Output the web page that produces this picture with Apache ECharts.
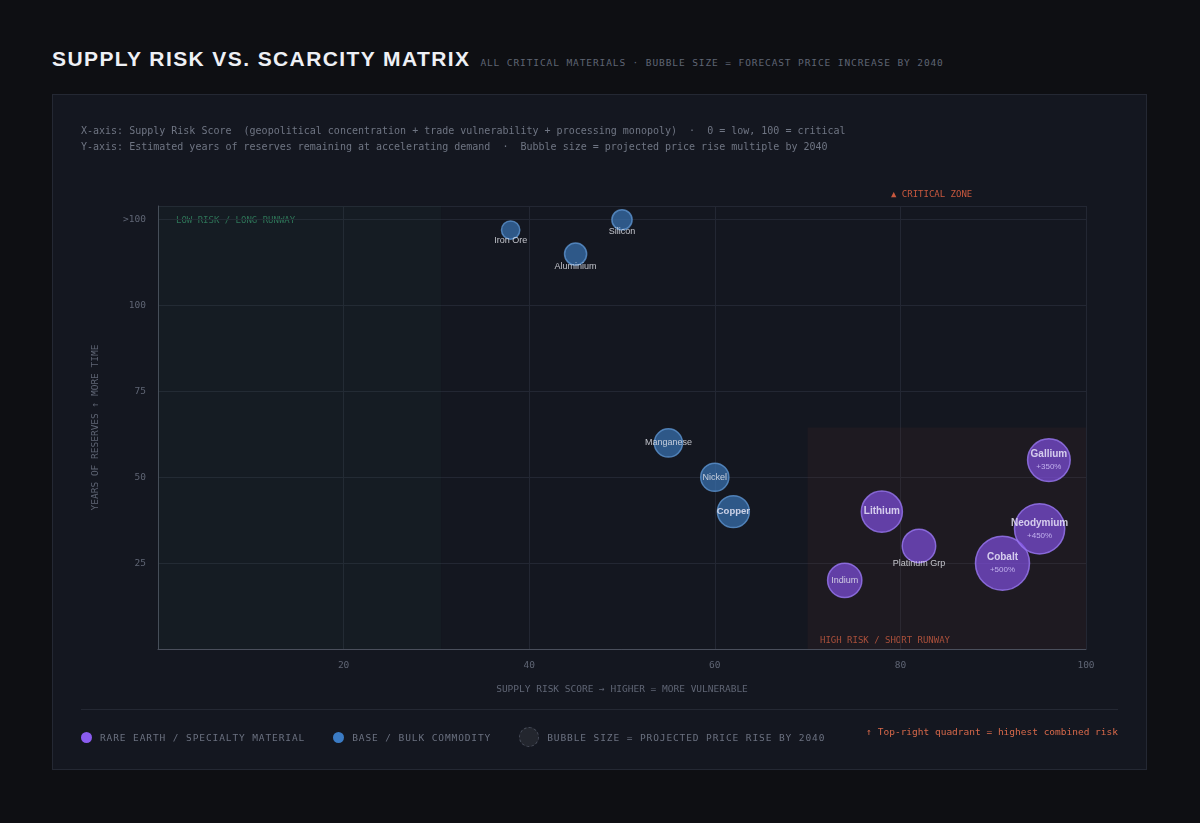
<!DOCTYPE html>
<html>
<head>
<meta charset="utf-8">
<script src="https://cdn.jsdelivr.net/npm/echarts@6/dist/echarts.min.js"></script>
<style>
  body { margin: 0; background: #0e0f13; width: 1200px; height: 823px; position: relative; overflow: hidden; }
  .title { position: absolute; left: 52px; top: 47px; font: bold 21px "Liberation Sans", Arial, sans-serif; letter-spacing: 1.4px; color: #eef0f5; white-space: nowrap; }
  .title span { font: 9.5px "DejaVu Sans Mono", monospace; letter-spacing: 0.9px; color: #5f6574; font-weight: normal; margin-left: 10px; }
  .card { position: absolute; left: 52px; top: 94px; width: 1093px; height: 674px; background: #141720; border: 1px solid #242833; }
  .notes { position: absolute; left: 28px; top: 28px; font: 10px "DejaVu Sans Mono", monospace; line-height: 16px; color: #6f7583; white-space: pre; }
  #chart { position: absolute; left: 0; top: 0; width: 1093px; height: 674px; }
  .divider { position: absolute; left: 28px; right: 28px; top: 614px; border-top: 1px solid #242833; }
  .legend { position: absolute; left: 28px; top: 632px; font: 9.5px "DejaVu Sans Mono", monospace; letter-spacing: 0.9px; color: #6b7180; display: flex; align-items: center; }
  .legend i { display: inline-block; border-radius: 50%; margin-right: 8px; }
  .legend b { font-weight: normal; margin-right: 28px; }
  .note { position: absolute; right: 28px; top: 631px; font: 9.5px "DejaVu Sans Mono", monospace; color: #d8694a; }
</style>
</head>
<body>
<div class="title">SUPPLY RISK VS. SCARCITY MATRIX<span>ALL CRITICAL MATERIALS · BUBBLE SIZE = FORECAST PRICE INCREASE BY 2040</span></div>
<div class="card">
  <div id="chart"></div>
  <div class="notes">X-axis: Supply Risk Score  (geopolitical concentration + trade vulnerability + processing monopoly)  ·  0 = low, 100 = critical
Y-axis: Estimated years of reserves remaining at accelerating demand  ·  Bubble size = projected price rise multiple by 2040</div>
  <div class="divider"></div>
  <div class="legend">
    <i style="width:11px;height:11px;background:#8b5cf0"></i><b>RARE EARTH / SPECIALTY MATERIAL</b>
    <i style="width:11px;height:11px;background:#3b7bc4"></i><b>BASE / BULK COMMODITY</b>
    <i style="width:18px;height:18px;background:#23262e;border:1px dashed #4a4f5c"></i><b>BUBBLE SIZE = PROJECTED PRICE RISE BY 2040</b>
  </div>
  <div class="note">↑ Top-right quadrant = highest combined risk</div>
</div>
<script>
// 材料数据
var names    = ['Iron Ore', 'Silicon', 'Aluminium', 'Manganese', 'Nickel', 'Copper', 'Lithium', 'Platinum Grp', 'Indium', 'Cobalt', 'Neodymium', 'Gallium'];
var riskScore = [38, 50, 45, 55, 60, 62, 78, 82, 74, 91, 95, 96];
var reserveYears = [122, 125, 115, 60, 50, 40, 40, 30, 20, 25, 35, 55];
var priceRise = [30, 55, 80, 160, 160, 210, 330, 230, 240, 500, 450, 350];
var groups = ['base', 'base', 'base', 'base', 'base', 'base', 'rare', 'rare', 'rare', 'rare', 'rare', 'rare'];
var showPct = ['Cobalt', 'Neodymium', 'Gallium'];
var belowLabel = ['Iron Ore', 'Silicon', 'Aluminium', 'Platinum Grp'];
var boldLabel = ['Copper', 'Lithium', 'Cobalt', 'Neodymium', 'Gallium'];
var xTicks = [20, 40, 60, 80, 100];

function sizeOf(v) { return 16 + v * 0.076; }

function buildSeries(g) {
    var data = [];
    for (var i = 0; i < names.length; i++) {
        if (groups[i] != g) continue;
        var name = names[i];
        var below = belowLabel.indexOf(name) >= 0;
        var txt = showPct.indexOf(name) >= 0 ? '{b|' + name + '}\n{p|+' + priceRise[i] + '%}' :
            (boldLabel.indexOf(name) >= 0 ? '{b|' + name + '}' : '{n|' + name + '}');
        data.push({
            name: name,
            value: [riskScore[i], reserveYears[i], priceRise[i]],
            label: {
                show: true,
                position: below ? 'bottom' : 'inside',
                distance: below ? -4 : 5,
                formatter: txt
            }
        });
    }
    var rare = g == 'rare';
    return {
        type: 'scatter',
        data: data,
        symbolSize: function (v) { return sizeOf(v[2]); },
        itemStyle: {
            color: rare ? 'rgba(130,80,230,0.85)' : 'rgba(58,118,185,0.85)',
            borderColor: rare ? '#9a78f2' : '#5c93cf',
            borderWidth: 1.5
        },
        label: {
            rich: {
                b: { color: '#f2f0ff', fontSize: g == 'rare' ? 10 : 9.5, fontWeight: 'bold', fontFamily: 'Liberation Sans', lineHeight: 13 },
                n: { color: '#e8eaf0', fontSize: 9, fontFamily: 'Liberation Sans' },
                p: { color: '#d8ccff', fontSize: 8, fontFamily: 'Liberation Sans', lineHeight: 12 }
            }
        },
        z: 3
    };
}

var chart = echarts.init(document.getElementById('chart'));
var mono = 'DejaVu Sans Mono';
var series = [buildSeries('base'), buildSeries('rare')];
series.push({
    type: 'scatter', data: [], silent: true,
    markArea: {
        silent: true,
        data: [
            [{ coord: [0, 0], itemStyle: { color: 'rgba(40,80,70,0.10)' } }, { coord: [30.5, 129] }],
            [{ coord: [70, 0], itemStyle: { color: 'rgba(90,50,40,0.14)' } }, { coord: [100, 64.5] }]
        ]
    }
});

chart.setOption({
    backgroundColor: 'transparent',
    animation: false,
    grid: { left: 105, right: 60, top: 111, bottom: 120 },
    xAxis: {
        type: 'value', min: 0, max: 100, interval: 20,
        name: 'SUPPLY RISK SCORE → HIGHER = MORE VULNERABLE',
        nameLocation: 'middle', nameGap: 36,
        nameTextStyle: { color: '#5f6574', fontFamily: mono, fontSize: 9.5 },
        axisLine: { lineStyle: { color: '#4a4f5c' } },
        axisTick: { show: false },
        axisLabel: {
            color: '#5f6574', fontFamily: mono, fontSize: 9.5, margin: 12,
            formatter: function (v) { return xTicks.indexOf(v) >= 0 ? v : ''; }
        },
        splitLine: { lineStyle: { color: '#232733' } }
    },
    yAxis: {
        type: 'value', min: 0, max: 129, interval: 25,
        name: 'YEARS OF RESERVES ↑ MORE TIME',
        nameLocation: 'middle', nameGap: 57,
        nameTextStyle: { color: '#5f6574', fontFamily: mono, fontSize: 9.5 },
        axisLine: { show: true, lineStyle: { color: '#4a4f5c' } },
        axisTick: { show: false },
        axisLabel: {
            color: '#5f6574', fontFamily: mono, fontSize: 9.5, margin: 12,
            formatter: function (v) { return v == 0 || v % 25 ? '' : (v > 100 ? '>100' : v); }
        },
        splitLine: { lineStyle: { color: '#232733' } }
    },
    graphic: [
        { type: 'text', left: 123, top: 121, style: { text: 'LOW RISK / LONG RUNWAY', fill: '#2f7a5a', font: '9px ' + mono } },
        { type: 'text', left: 767, top: 541, style: { text: 'HIGH RISK / SHORT RUNWAY', fill: '#b8553e', font: '9px ' + mono } },
        { type: 'text', left: 838, top: 95, style: { text: '▲ CRITICAL ZONE', fill: '#c8583e', font: '9px ' + mono } }
    ],
    series: series
});
</script>
</body>
</html>
